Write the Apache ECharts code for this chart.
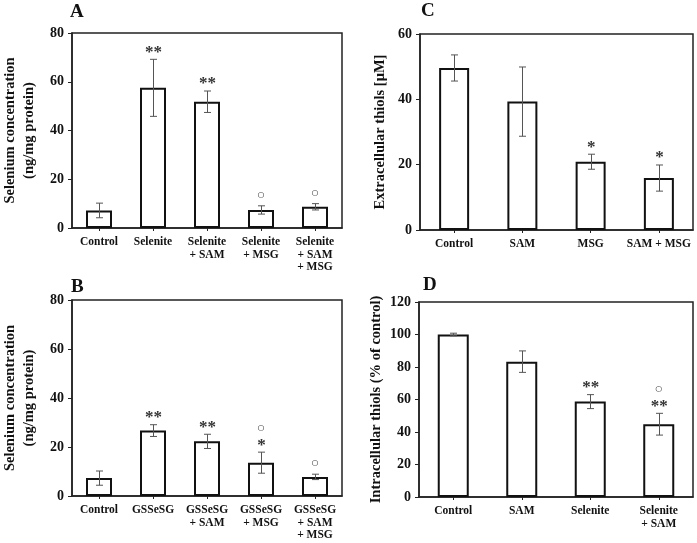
<!DOCTYPE html>
<html>
<head>
<meta charset="utf-8">
<script src="https://cdn.jsdelivr.net/npm/echarts@6/dist/echarts.min.js"></script>
<style>
html,body{margin:0;padding:0;background:#fff;}
#chart{width:697px;height:543px;}
</style>
</head>
<body>
<div id="chart"></div>
<script>
// ---- data ----
const catsA = ['Control', 'Selenite', 'Selenite\n+ SAM', 'Selenite\n+ MSG', 'Selenite\n+ SAM\n+ MSG'];
const meanA = [7.2, 57.5, 51.8, 7.4, 8.7];
const errA  = [3.0, 11.7, 4.4, 1.7, 1.3];
const annA  = [[], ['**'], ['**'], ['○'], ['○']];

const catsB = ['Control', 'GSSeSG', 'GSSeSG\n+ SAM', 'GSSeSG\n+ MSG', 'GSSeSG\n+ SAM\n+ MSG'];
const meanB = [7.3, 26.7, 22.3, 13.6, 7.8];
const errB  = [2.9, 2.4, 2.9, 4.3, 1.1];
const annB  = [[], ['**'], ['**'], ['*', '○'], ['○']];

const catsC = ['Control', 'SAM', 'MSG', 'SAM + MSG'];
const meanC = [49.6, 39.3, 20.9, 15.9];
const errC  = [4.0, 10.6, 2.3, 4.0];
const annC  = [[], [], ['*'], ['*']];

const catsD = ['Control', 'SAM', 'Selenite', 'Selenite\n+ SAM'];
const meanD = [100, 83.3, 58.7, 44.8];
const errD  = [0.8, 6.6, 4.3, 6.7];
const annD  = [[], [], ['**'], ['**', '○']];

const yMaxA = 80, yMaxB = 80, yMaxC = 60, yMaxD = 120, yStep = 20;
const titleA = 'Selenium concentration\n(ng/mg protein)';
const titleB = 'Selenium concentration\n(ng/mg protein)';
const titleC = 'Extracellular thiols [μM]';
const titleD = 'Intracellular thiols (% of control)';
const letters = ['A', 'B', 'C', 'D'];

// ---- layout ----
const SERIF = 'Liberation Serif, Times New Roman, serif';
const panels = [
  {cats: catsA, mean: meanA, err: errA, ann: annA, max: yMaxA, title: titleA,
   grid: {left: 68, top: 33, width: 274, height: 195}, barW: 26, gap: 33, letter: [70, 3]},
  {cats: catsB, mean: meanB, err: errB, ann: annB, max: yMaxB, title: titleB,
   grid: {left: 68, top: 300, width: 274, height: 196}, barW: 26, gap: 33, letter: [71, 278]},
  {cats: catsC, mean: meanC, err: errC, ann: annC, max: yMaxC, title: titleC,
   grid: {left: 420, top: 34, width: 273, height: 196}, barW: 30, gap: 30, letter: [421, 2]},
  {cats: catsD, mean: meanD, err: errD, ann: annD, max: yMaxD, title: titleD,
   grid: {left: 419, top: 302, width: 274, height: 195}, barW: 31, gap: 27, letter: [423, 276]}
];

const grids = [], xAxes = [], yAxes = [], series = [], graphics = [];

panels.forEach((p, i) => {
  grids.push(Object.assign({show: true, borderColor: '#222', borderWidth: 1.5, backgroundColor: 'transparent'}, p.grid));
  xAxes.push({
    type: 'category', gridIndex: i, data: p.cats,
    axisLine: {show: true, lineStyle: {color: '#222', width: 1.5}},
    axisTick: {show: true, alignWithLabel: true, length: 3, lineStyle: {color: '#222', width: 1}},
    axisLabel: {interval: 0, margin: 8, color: '#111', fontFamily: SERIF, fontWeight: 'bold', fontSize: 11.5, lineHeight: 12.5},
    splitLine: {show: false}
  });
  yAxes.push({
    type: 'value', gridIndex: i, min: 0, max: p.max, interval: yStep,
    name: p.title, nameLocation: 'middle', nameRotate: 90, nameGap: p.gap,
    nameTextStyle: {color: '#111', fontFamily: SERIF, fontWeight: 'bold', fontSize: 14.5, lineHeight: 19},
    axisLine: {show: true, lineStyle: {color: '#222', width: 1.5}},
    axisTick: {show: true, length: 4, lineStyle: {color: '#222', width: 1}},
    axisLabel: {margin: 8, color: '#111', fontFamily: SERIF, fontWeight: 'bold', fontSize: 14},
    splitLine: {show: false}
  });
  series.push({
    type: 'bar', xAxisIndex: i, yAxisIndex: i, data: p.mean, barWidth: p.barW,
    itemStyle: {color: '#fff', borderColor: '#111', borderWidth: 2},
    silent: true, z: 2
  });
  const errData = p.mean.map((m, k) => [k, m, p.err[k]]);
  series.push({
    type: 'custom', xAxisIndex: i, yAxisIndex: i, data: errData, z: 3, silent: true,
    renderItem: (params, api) => {
      const x = api.value(0), m = api.value(1), e = api.value(2);
      const t = api.coord([x, m + e]), b = api.coord([x, m - e]);
      const cx = Math.round(t[0]) + 0.5, hw = 3.5;
      const st = {stroke: '#555', lineWidth: 1};
      return {type: 'group', children: [
        {type: 'line', shape: {x1: cx, y1: t[1], x2: cx, y2: b[1]}, style: st},
        {type: 'line', shape: {x1: cx - hw, y1: t[1], x2: cx + hw, y2: t[1]}, style: st},
        {type: 'line', shape: {x1: cx - hw, y1: b[1], x2: cx + hw, y2: b[1]}, style: st}
      ]};
    }
  });
  const annData = p.mean.map((m, k) => [k, m + p.err[k]]);
  const annList = p.ann;
  series.push({
    type: 'custom', xAxisIndex: i, yAxisIndex: i, data: annData, z: 4, silent: true,
    renderItem: (params, api) => {
      const t = api.coord([api.value(0), api.value(1)]);
      const syms = annList[params.dataIndex] || [];
      const children = syms.map((s, k) => {
        const circ = s === '○';
        return {
          type: 'text', x: t[0] + (circ ? 0 : 0.5), y: t[1] - (circ ? 11 : 7) - 13 * k,
          style: {
            text: s, align: 'center', verticalAlign: 'middle', fill: circ ? '#222' : '#333',
            font: circ ? '8px DejaVu Sans' : 'bold 17px ' + SERIF
          }
        };
      });
      return {type: 'group', children: children};
    }
  });
  graphics.push({
    type: 'text', left: p.letter[0], top: p.letter[1],
    style: {text: letters[i], font: 'bold 19px ' + SERIF, fill: '#111'}
  });
});

const chart = echarts.init(document.getElementById('chart'), null, {renderer: 'canvas'});
chart.setOption({
  animation: false,
  backgroundColor: '#fff',
  grid: grids, xAxis: xAxes, yAxis: yAxes, series: series, graphic: graphics
});
</script>
</body>
</html>
